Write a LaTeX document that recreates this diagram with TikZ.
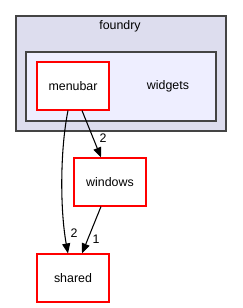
\documentclass[tikz,border=0pt]{standalone}
\usepackage{fontspec}
\setmainfont{Liberation Sans}
\usetikzlibrary{arrows.meta,calc}
\definecolor{outerfill}{HTML}{DDDDEE}
\definecolor{innerfill}{HTML}{EEEEFF}
\definecolor{frame}{HTML}{444444}
\tikzset{
  cluster/.style={draw=frame,line width=1.3pt},
  dirnode/.style={draw=red,fill=white,line width=0.8pt,minimum width=54pt,minimum height=36pt,inner sep=0pt,font=\fontsize{9.3}{11}\selectfont},
  lbl/.style={font=\fontsize{9.3}{11}\selectfont,inner sep=0pt},
  edge/.style={draw=black,line width=0.8pt,-{Triangle[length=7.5pt,width=6pt]}},
}
\begin{document}
\begin{tikzpicture}[x=0.75pt,y=-0.75pt]
\useasboundingbox (0,0) rectangle (243,308);
\fill[white] (0,0) rectangle (243,308);
\draw[cluster,fill=outerfill] (16,16) rectangle (226,131);
\draw[cluster,fill=innerfill] (26,52) rectangle (216,121);
\node[lbl] (foundry) at (120,26) {foundry};
\node[lbl] (widgets) at (168,86) {widgets};
\node[dirnode] (menubar) at (73,86) {menubar};
\node[dirnode] (windows) at (110,182) {windows};
\node[dirnode] (shared) at (73,278) {shared};
\draw[edge] ($(menubar.south)+(-5,0)$) .. controls (60,150) and (60,210) .. ($(shared.north)+(-5,0)$);
\node[lbl] (l1) at (74,233) {2};
\draw[edge] ($(menubar.south)+(9,0)$) -- ($(windows.north)+(-9,0)$);
\node[lbl] (l2) at (103,138) {2};
\draw[edge] ($(windows.south)+(-9,0)$) -- ($(shared.north)+(9,0)$);
\node[lbl] (l3) at (96,239) {1};
\end{tikzpicture}
\end{document}
